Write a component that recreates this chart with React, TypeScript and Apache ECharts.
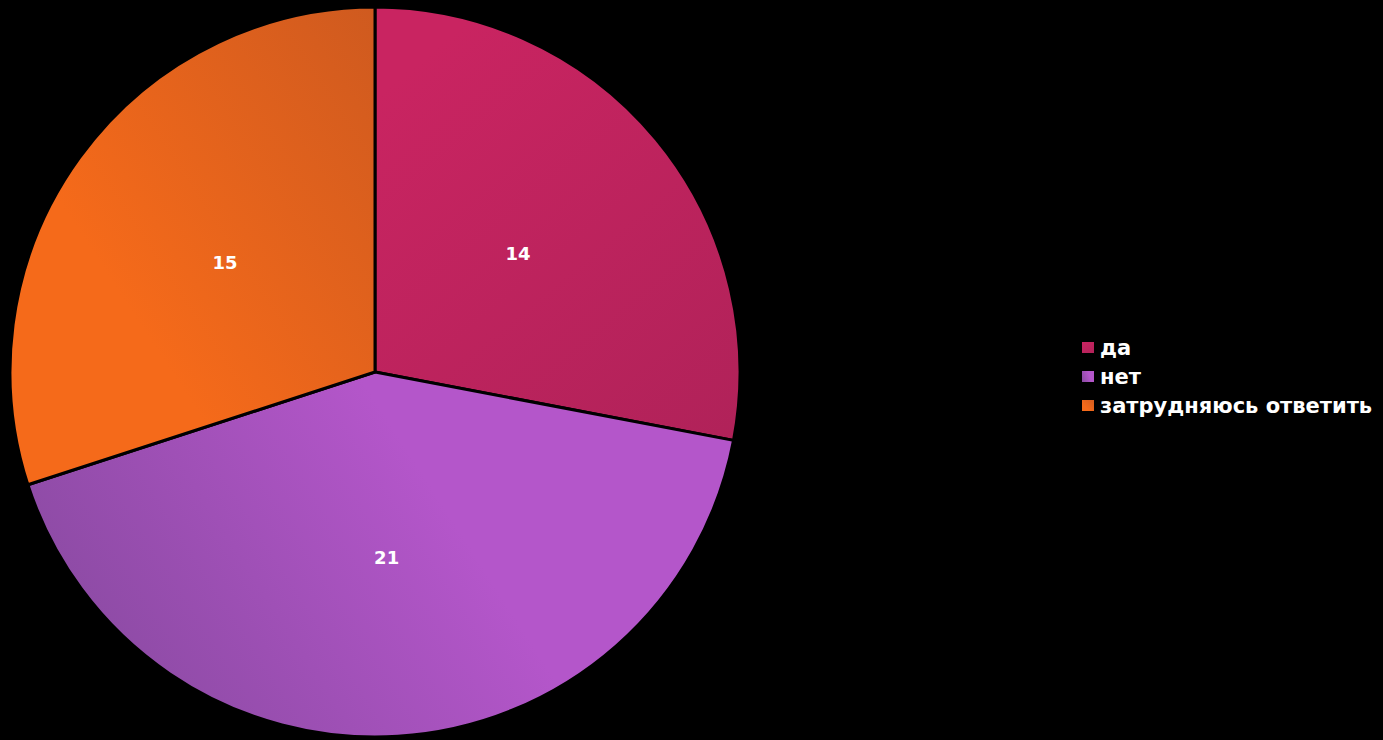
import React, { useEffect, useRef } from "react";
import * as echarts from "echarts";

const categories = ["да", "нет", "затрудняюсь ответить"];
const values = [14, 21, 15];
const baseColors = ["#C8245E", "#B055C8", "#F26A1B"];

const gradients = [
  { x: 0.3, y: 0, x2: 1, y2: 1, c1: "#C92461", c2: "#B02259" },
  { x: 0, y: 0.6, x2: 0.6, y2: 0.4, c1: "#8A4AA2", c2: "#B456CA" },
  { x: 1, y: 0, x2: 0.3, y2: 0.6, c1: "#CF5A1F", c2: "#F56A1A" },
];

export default function App() {
  const ref = useRef<HTMLDivElement>(null);
  useEffect(() => {
    if (!ref.current) return;
    const chart = echarts.init(ref.current, null, { renderer: "svg" });
    chart.setOption({
      animation: false,
      backgroundColor: "#000000",
      color: baseColors,
      legend: {
        orient: "vertical",
        left: 1075,
        top: 332,
        itemWidth: 14,
        itemHeight: 13,
        itemGap: 8,
        icon: "rect",
        textStyle: {
          color: "#FFFFFF",
          fontFamily: "DejaVu Sans",
          fontWeight: "bold",
          fontSize: 21,
        },
        data: categories,
      },
      series: [
        {
          type: "pie",
          center: [375, 372],
          radius: [0, 365],
          startAngle: 90,
          clockwise: true,
          avoidLabelOverlap: false,
          itemStyle: { borderColor: "#000000", borderWidth: 3 },
          label: {
            show: true,
            position: "inside",
            formatter: "{c}",
            color: "#FFFFFF",
            fontFamily: "DejaVu Sans",
            fontWeight: "bold",
            fontSize: 18,
          },
          labelLine: { show: false },
          data: categories.map((name, i) => ({
            name,
            value: values[i],
            itemStyle: {
              color: new echarts.graphic.LinearGradient(
                gradients[i].x,
                gradients[i].y,
                gradients[i].x2,
                gradients[i].y2,
                [
                  { offset: 0, color: gradients[i].c1 },
                  { offset: 1, color: gradients[i].c2 },
                ]
              ),
            },
          })),
        },
      ],
    });
    return () => chart.dispose();
  }, []);
  return (
    <div
      ref={ref}
      style={{ position: "fixed", left: 0, top: 0, width: 1383, height: 740 }}
    />
  );
}
